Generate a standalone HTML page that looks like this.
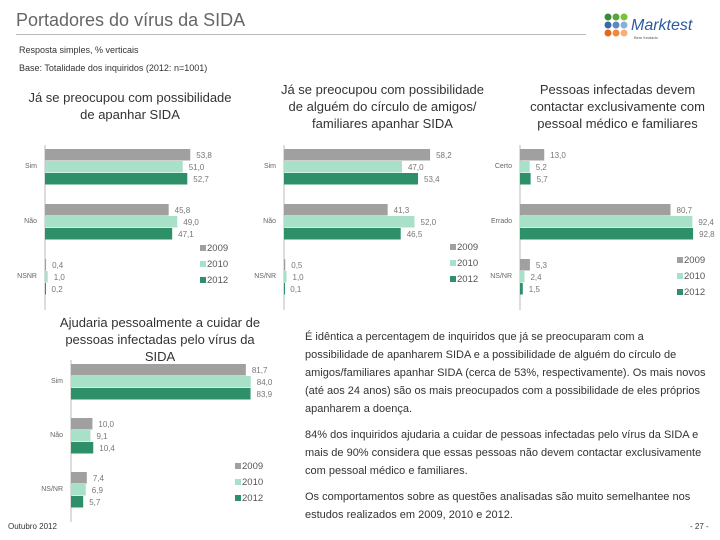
<!DOCTYPE html>
<html><head><meta charset="utf-8"><style>
body{margin:0;width:720px;height:540px;background:#fff;font-family:"Liberation Sans",sans-serif;position:relative;overflow:hidden}
.t{position:absolute;white-space:nowrap}
svg text{font-family:"Liberation Sans",sans-serif}
</style></head><body>
<div class="t" style="left:16px;top:10px;font-size:18px;color:#666">Portadores do vírus da SIDA</div>
<div style="position:absolute;left:16px;top:34px;width:570px;height:1px;background:#bbb"></div>
<div class="t" style="left:19px;top:45px;font-size:9px;color:#333">Resposta simples, % verticais</div>
<div class="t" style="left:19px;top:63px;font-size:9px;color:#333">Base: Totalidade dos inquiridos (2012: n=1001)</div>
<div style="position:absolute;left:604px;top:12px">
<svg width="110" height="32"><g>
<circle cx="4" cy="5" r="3.5" fill="#3a8a3a"/><circle cx="12" cy="5" r="3.5" fill="#5aa53a"/><circle cx="20" cy="5" r="3.5" fill="#7cbf3a"/>
<circle cx="4" cy="13" r="3.5" fill="#3a6aa5"/><circle cx="12" cy="13" r="3.5" fill="#5a8ac5"/><circle cx="20" cy="13" r="3.5" fill="#8ab0d8"/>
<circle cx="4" cy="21" r="3.5" fill="#e06a1a"/><circle cx="12" cy="21" r="3.5" fill="#f08a3a"/><circle cx="20" cy="21" r="3.5" fill="#f5b07a"/></g>
<text x="27" y="18" font-size="16" font-style="italic" fill="#2a5aa0">Marktest</text>
<text x="30" y="27" font-size="4" fill="#555">Bem fundado</text></svg></div>

<div class="t" style="left:0;width:260px;top:89px;font-size:13px;color:#333;text-align:center;white-space:normal;line-height:17px">Já se preocupou com possibilidade<br>de apanhar SIDA</div>
<div class="t" style="left:255px;width:255px;top:81px;font-size:13px;color:#333;text-align:center;white-space:normal;line-height:17px">Já se preocupou com possibilidade<br>de alguém do círculo de amigos/<br>familiares apanhar SIDA</div>
<div class="t" style="left:515px;width:205px;top:81px;font-size:13px;color:#333;text-align:center;white-space:normal;line-height:17px">Pessoas infectadas devem<br>contactar exclusivamente com<br>pessoal médico e familiares</div>
<div class="t" style="left:40px;width:240px;top:314px;font-size:13px;color:#333;text-align:center;white-space:normal;line-height:17px">Ajudaria pessoalmente a cuidar de<br>pessoas  infectadas pelo vírus da<br>SIDA</div>

<div style="position:absolute;left:305px;top:328px;width:405px;font-size:11px;line-height:18px;color:#333">
<p style="margin:0 0 8px">É idêntica a percentagem de inquiridos que já se preocuparam com a possibilidade de apanharem SIDA e a possibilidade de alguém do círculo de amigos/familiares apanhar SIDA (cerca de 53%, respectivamente). Os mais novos (até aos 24 anos) são os mais preocupados com a possibilidade de eles próprios apanharem a doença.</p>
<p style="margin:0 0 8px">84% dos inquiridos ajudaria a cuidar de pessoas infectadas pelo vírus da SIDA e mais de 90% considera que essas pessoas não devem contactar exclusivamente com pessoal médico e familiares.</p>
<p style="margin:0">Os comportamentos sobre as questões analisadas são muito semelhantee nos estudos realizados em 2009, 2010 e 2012.</p></div>
<div class="t" style="left:8px;top:522px;font-size:8px;color:#333">Outubro 2012</div>
<div class="t" style="left:690px;top:522px;font-size:8px;color:#333">- 27 -</div>

<svg id="charts" width="720" height="540" style="position:absolute;left:0;top:0"></svg>
<script>
const years=["2009","2010","2012"];
const colors=["#a0a0a0","#a8e0c8","#2e9068"];
const c1Cats=["Sim","Não","NSNR"];
const c1V2009=[53.8,45.8,0.4],c1V2010=[51.0,49.0,1.0],c1V2012=[52.7,47.1,0.2];
const c1Lbl2009=["53,8","45,8","0,4"],c1Lbl2010=["51,0","49,0","1,0"],c1Lbl2012=["52,7","47,1","0,2"];
const c2Cats=["Sim","Não","NS/NR"];
const c2V2009=[58.2,41.3,0.5],c2V2010=[47.0,52.0,1.0],c2V2012=[53.4,46.5,0.1];
const c2Lbl2009=["58,2","41,3","0,5"],c2Lbl2010=["47,0","52,0","1,0"],c2Lbl2012=["53,4","46,5","0,1"];
const c3Cats=["Certo","Errado","NS/NR"];
const c3V2009=[13.0,80.7,5.3],c3V2010=[5.2,92.4,2.4],c3V2012=[5.7,92.8,1.5];
const c3Lbl2009=["13,0","80,7","5,3"],c3Lbl2010=["5,2","92,4","2,4"],c3Lbl2012=["5,7","92,8","1,5"];
const c4Cats=["Sim","Não","NS/NR"];
const c4V2009=[81.7,10.0,7.4],c4V2010=[84.0,9.1,6.9],c4V2012=[83.9,10.4,5.7];
const c4Lbl2009=["81,7","10,0","7,4"],c4Lbl2010=["84,0","9,1","6,9"],c4Lbl2012=["83,9","10,4","5,7"];

const NS="http://www.w3.org/2000/svg",root=document.getElementById('charts');
function mk(t,a,p){const e=document.createElementNS(NS,t);for(const k in a)e.setAttribute(k,a[k]);(p||root).appendChild(e);return e;}
function chart(id,cats,series,labels,ax,scale,y0,gap,legX,legY){
  const g=mk('g',{});
  
  
  const xs=v=>ax+v*scale;
  const ln=mk('line',{x1:ax,x2:ax,y1:y0-4,y2:y0+3*gap-4,stroke:'#bbb','stroke-width':1},g);
  
  
  cats.forEach((c,i)=>{
    const gy=y0+i*gap;
    const t=mk('text',{x:ax-8,y:gy+19,'font-size':7,fill:'#666','text-anchor':'end'},g);t.textContent=c;
    
    
    series.forEach((s,j)=>{
      const y=gy+j*12;
      const r=mk('rect',{x:ax,y:y,width:Math.max(1,xs(s[i])-ax),height:11.5,fill:colors[j]},g);
      
      
      const l=mk('text',{x:xs(s[i])+6,y:y+9,'font-size':8,fill:'#777'},g);l.textContent=labels[j][i];
      
      
    });
  });
  years.forEach((yr,j)=>{
    const r=mk('rect',{x:legX,y:legY+j*16-6,width:6,height:6,fill:colors[j]},g);
    
    
    const t=mk('text',{x:legX+7,y:legY+j*16,'font-size':9.5,fill:'#555'},g);t.textContent=yr;
    
    
  });
}
chart('chart1',c1Cats,[c1V2009,c1V2010,c1V2012],[c1Lbl2009,c1Lbl2010,c1Lbl2012],45,2.7,149,55,200,251);
chart('chart2',c2Cats,[c2V2009,c2V2010,c2V2012],[c2Lbl2009,c2Lbl2010,c2Lbl2012],284,2.51,149,55,450,250);
chart('chart3',c3Cats,[c3V2009,c3V2010,c3V2012],[c3Lbl2009,c3Lbl2010,c3Lbl2012],520,1.865,149,55,677,263);
chart('chart4',c4Cats,[c4V2009,c4V2010,c4V2012],[c4Lbl2009,c4Lbl2010,c4Lbl2012],71,2.14,364,54,235,469);
</script>
</body></html>
